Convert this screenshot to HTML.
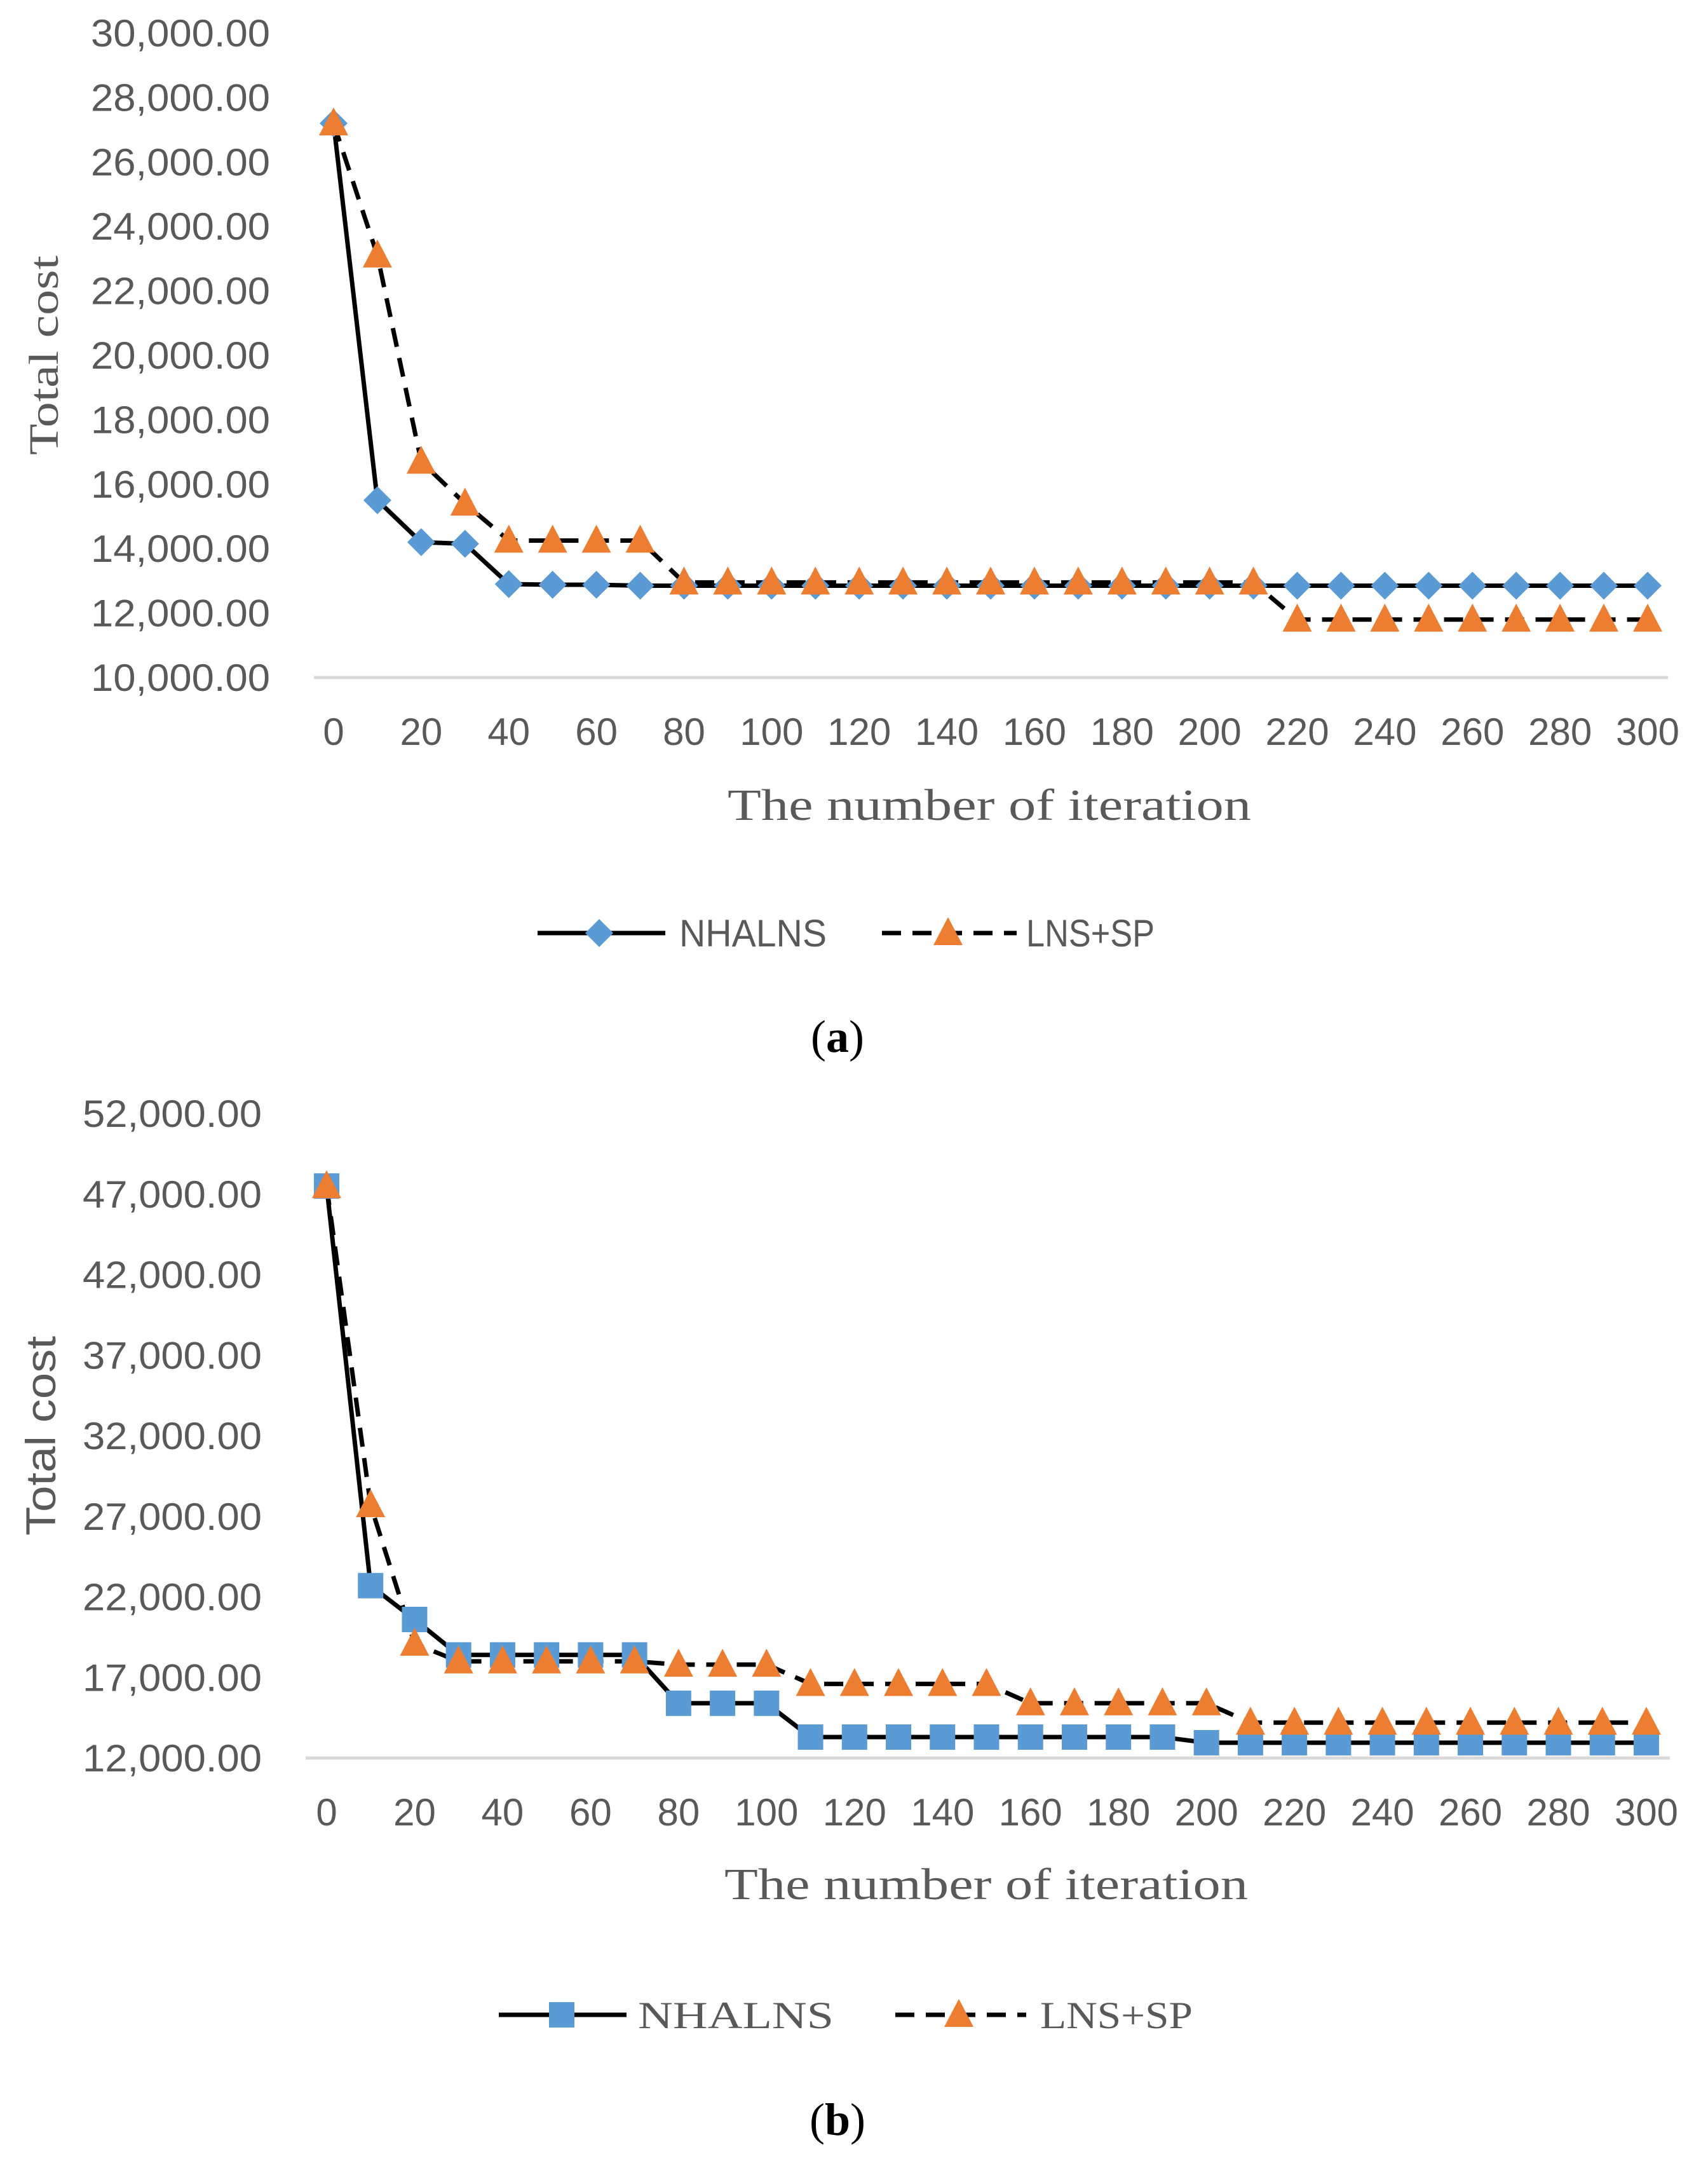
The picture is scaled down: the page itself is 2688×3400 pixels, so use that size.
<!DOCTYPE html>
<html><head><meta charset="utf-8"><style>
html,body{margin:0;padding:0;background:#fff;}
svg{display:block;}
</style></head><body>
<svg id="fig" width="2688" height="3400" xmlns="http://www.w3.org/2000/svg"></svg>
<script>
const xCats = [0,10,20,30,40,50,60,70,80,90,100,110,120,130,140,150,160,170,180,190,200,210,220,230,240,250,260,270,280,290,300];
const xTickLabels = [0,20,40,60,80,100,120,140,160,180,200,220,240,260,280,300];
const aNhalns = [27200,15500,14200,14150,12900,12880,12880,12850,12850,12850,12850,12850,12850,12850,12850,12850,12850,12850,12850,12850,12850,12850,12850,12850,12850,12850,12850,12850,12850,12850,12850];
const aLnsSp = [27200,23100,16700,15400,14250,14250,14250,14250,12950,12950,12950,12950,12950,12950,12950,12950,12950,12950,12950,12950,12950,12950,11800,11800,11800,11800,11800,11800,11800,11800,11800];
const aYTicks = [10000,12000,14000,16000,18000,20000,22000,24000,26000,28000,30000];
const bNhalns = [47500,22700,20600,18400,18400,18400,18400,18400,15400,15400,15400,13300,13300,13300,13300,13300,13300,13300,13300,13300,12950,12950,12950,12950,12950,12950,12950,12950,12950,12950,12950];
const bLnsSp = [47500,27700,19100,18000,18000,18000,18000,18000,17800,17800,17800,16600,16600,16600,16600,16600,15400,15400,15400,15400,15400,14200,14200,14200,14200,14200,14200,14200,14200,14200,14200];
const bYTicks = [12000,17000,22000,27000,32000,37000,42000,47000,52000];

const NS='http://www.w3.org/2000/svg';
const svg=document.getElementById('fig');
function mk(tag,attrs,parent){const e=document.createElementNS(NS,tag);for(const k in attrs)e.setAttribute(k,attrs[k]);(parent||svg).appendChild(e);return e;}

function marker(g,type,cx,cy){
  let e;
  if(type==='diamond'){e=mk('polygon',{points:`${cx},${cy-22} ${cx+22},${cy} ${cx},${cy+22} ${cx-22},${cy}`,fill:'#5B9BD5'},g);}
  else if(type==='square'){e=mk('rect',{x:cx-20,y:cy-20,width:40,height:40,fill:'#5B9BD5'},g);}
  else {e=mk('polygon',{points:`${cx},${cy-25} ${cx+23},${cy+19} ${cx-23},${cy+19}`,fill:'#ED7D31'},g);}
  return e;
}

function chart(o){
  const g=mk('g',{});
  
  
  const xS=v=>o.x0+(v-0)/(300-0)*(o.x1-o.x0);
  const yS=v=>o.yB+(v-o.yMin)/(o.yMax-o.yMin)*(o.yT-o.yB);
  const ax=mk('line',{x1:o.axL,x2:o.axR,y1:o.yB,y2:o.yB,stroke:'#d9d9d9','stroke-width':5},g);
  
  
  o.yTicks.forEach(v=>{
    const t=mk('text',{x:o.labR,y:yS(v)+21,'text-anchor':'end','font-family':'Liberation Sans, sans-serif','font-size':60,fill:'#595959',textLength:o.labW,lengthAdjust:'spacingAndGlyphs'},g);
    t.textContent=v.toLocaleString('en-US',{minimumFractionDigits:2,maximumFractionDigits:2});
    
    
  });
  xTickLabels.forEach(v=>{
    const t=mk('text',{x:xS(v),y:o.xLabY+21,'text-anchor':'middle','font-family':'Liberation Sans, sans-serif','font-size':60,fill:'#595959'},g);
    t.textContent=v;
    
    
  });
  const xt=mk('text',{x:o.xtX,y:o.xtY+24,'text-anchor':'middle','font-family':'Liberation Serif, serif','font-size':70,fill:'#595959',textLength:824,lengthAdjust:'spacingAndGlyphs'},g);
  xt.textContent='The number of iteration';
  
  
  const yt=mk('text',{x:0,y:0,transform:`translate(${o.ytX+22},${o.ytY}) rotate(-90)`,'text-anchor':'middle','font-family':o.ytFont,'font-size':66,fill:'#595959',textLength:314,lengthAdjust:'spacingAndGlyphs'},g);
  yt.textContent='Total cost';
  
  
  const s2=mk('polyline',{points:xCats.map((c,i)=>xS(c)+','+yS(o.s2[i])).join(' '),fill:'none',stroke:'#000','stroke-width':7,'stroke-dasharray':'30 18','stroke-linejoin':'round'},g);
  
  
  const s1=mk('polyline',{points:xCats.map((c,i)=>xS(c)+','+yS(o.s1[i])).join(' '),fill:'none',stroke:'#000','stroke-width':7,'stroke-linejoin':'round'},g);
  
  
  xCats.forEach((c,i)=>{const m=marker(g,o.m1,xS(c),yS(o.s1[i]));
    
    });
  xCats.forEach((c,i)=>{const m=marker(g,'tri',xS(c),yS(o.s2[i]));
    
    });
  const lg=mk('g',{},g);
  
  
  mk('line',{x1:o.lg[0],x2:o.lg[1],y1:o.lgY,y2:o.lgY,stroke:'#000','stroke-width':7},lg);
  marker(lg,o.m1,o.lg[2],o.lgY);
  const l1=mk('text',{x:o.lg[3],y:o.lgY+21,'font-family':o.lgFont,'font-size':60,fill:'#595959',textLength:o.lg[4]-o.lg[3],lengthAdjust:'spacingAndGlyphs'},lg);
  l1.textContent='NHALNS';
  
  
  mk('line',{x1:o.lg[5],x2:o.lg[6],y1:o.lgY,y2:o.lgY,stroke:'#000','stroke-width':7,'stroke-dasharray':'30 18'},lg);
  marker(lg,'tri',o.lg[7],o.lgY);
  const l2=mk('text',{x:o.lg[8],y:o.lgY+21,'font-family':o.lgFont,'font-size':60,fill:'#595959',textLength:o.lg[9]-o.lg[8],lengthAdjust:'spacingAndGlyphs'},lg);
  l2.textContent='LNS+SP';
  
  
  const cap=mk('text',{x:1318,y:o.capY+25,'text-anchor':'middle','font-family':'Liberation Serif, serif','font-size':72,fill:'#000'},g);
  cap.innerHTML='(<tspan font-weight="bold">'+o.cap+'</tspan>)';
  
  
}

chart({name:'chart-a',x0:525,x1:2593,axL:494,axR:2625,yB:1066,yT:52,yMin:10000,yMax:30000,yTicks:aYTicks,
  labR:425,labW:282,xLabY:1151,xtX:1557,xtY:1266,ytX:69,ytY:559,ytFont:'Liberation Serif, serif',
  s1:aNhalns,s2:aLnsSp,m1:'diamond',lgY:1468,lg:[846,1047,943,1069,1301,1388,1600,1492,1615,1817],lgFont:'Liberation Sans, sans-serif',capY:1630,cap:'a'});
chart({name:'chart-b',x0:514,x1:2591,axL:481,axR:2628,yB:2766,yT:1752,yMin:12000,yMax:52000,yTicks:bYTicks,
  labR:412,labW:282,xLabY:2851,xtX:1552,xtY:2964,ytX:65,ytY:2259,ytFont:'Liberation Sans, sans-serif',
  s1:bNhalns,s2:bLnsSp,m1:'square',lgY:3170,lg:[785,986,884,1004,1312,1409,1615,1509,1637,1877],lgFont:'Liberation Serif, serif',capY:3334,cap:'b'});
</script>
</body></html>
